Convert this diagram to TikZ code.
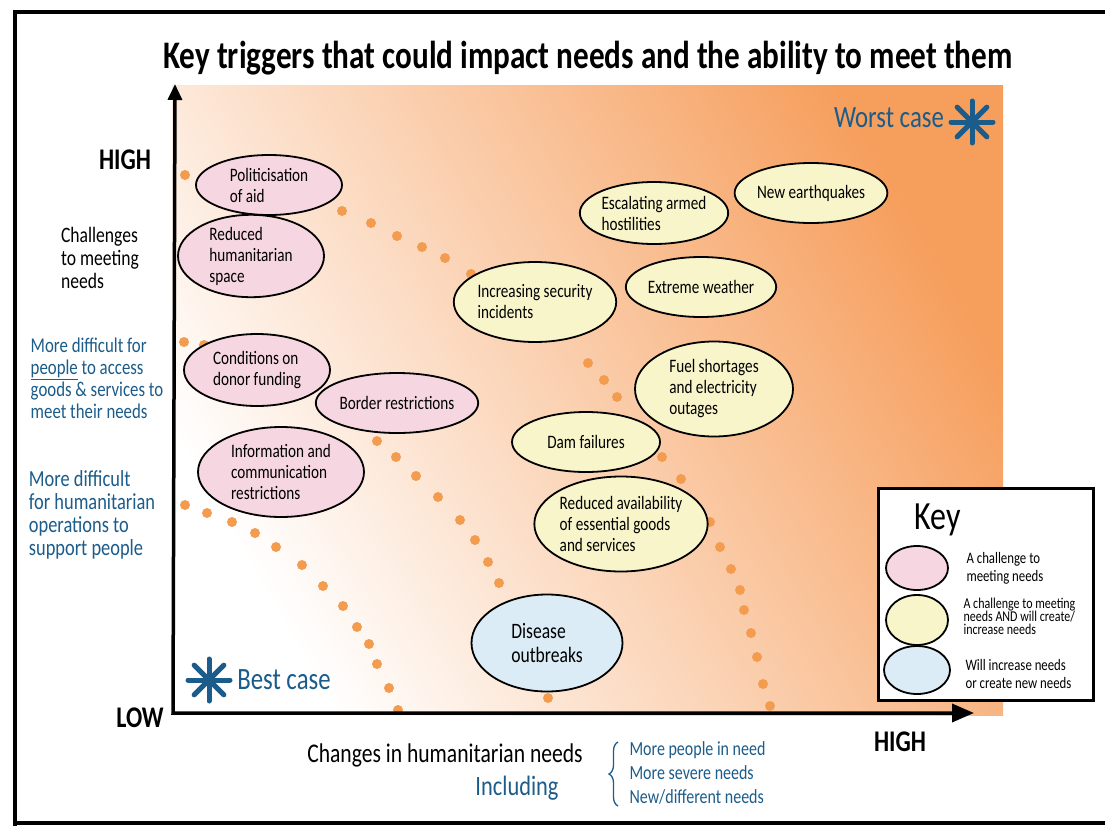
\documentclass[tikz,border=0pt]{standalone}
\usepackage{fontspec}
\setmainfont{Carlito}[FakeStretch=0.8]
\usepackage{xcolor}
\usetikzlibrary{arrows.meta,positioning,shapes.geometric,decorations.pathreplacing}

\definecolor{peach}{RGB}{246,158,92}
\definecolor{dotorange}{RGB}{243,156,80}
\definecolor{inkblue}{RGB}{28,92,138}
\definecolor{pinkfill}{RGB}{246,214,224}
\definecolor{yellowfill}{RGB}{248,245,202}
\definecolor{bluefill}{RGB}{220,236,246}

\tikzset{
  trigger/.style={draw,ellipse,line width=1.8pt,inner sep=0pt,align=left,font=\fontsize{19}{21}\selectfont},
  challenge/.style={trigger,fill=pinkfill},
  both/.style={trigger,fill=yellowfill},
  needs/.style={trigger,fill=bluefill},
  bluenote/.style={text=inkblue,align=left},
  levellabel/.style={font=\fontsize{30}{30}\selectfont\bfseries},
  spoke/.style={inkblue,line width=5pt,line cap=round},
}

\begin{document}
\begin{tikzpicture}[x=1pt,y=-1pt]
\useasboundingbox (0,0) rectangle (1105,827);
% frame
\draw[line width=4pt] (1105,12) -- (15,12) -- (15,826);
\draw[line width=4pt] (15,823) -- (1105,823);
\node (title) at (588,58) {\fontsize{39}{39}\selectfont\bfseries Key triggers that could impact needs and the ability to meet them};

% background field
\shade[left color=white,right color=peach,shading angle=120] (172,85) rectangle (1003,715);

% dotted bands
\foreach \p in {(185,175),(342,211),(371,223),(397,236),(422,247),(445,258),(471,274),
  (588,363),(604,380),(617,397),(662,457),(681,479),(710,522),(720,547),(731,569),
  (740,590),(744,610),(751,633),(757,657),(763,684),(770,706)}
  \fill[dotorange] \p circle (5pt);
\foreach \p in {(184,342),(204,345),(377,441),(396,457),(416,476),(438,497),(460,520),
  (475,540),(488,562),(499,583),(548,698)}
  \fill[dotorange] \p circle (5pt);
\foreach \p in {(185,505),(207,513),(232,522),(255,533),(276,547),(302,565),(323,586),
  (343,606),(357,627),(369,644),(377,664),(389,688),(398,710)}
  \fill[dotorange] \p circle (5pt);

% triggers
\node[challenge,minimum width=146pt,minimum height=60pt] (politic) at (269,185) {Politicisation\\of aid};
\node[challenge,minimum width=146pt,minimum height=78pt] (humspace) at (251,256) {Reduced\\humanitarian\\space};
\node[challenge,minimum width=146pt,minimum height=72pt] (donor) at (257,370) {Conditions on\\donor funding};
\node[challenge,minimum width=148pt,minimum height=60pt] (border) at (397,403) {Border restrictions};
\node[challenge,minimum width=166pt,minimum height=90pt] (infocomm) at (281,472) {Information and\\communication\\restrictions};
\node[both,minimum width=144pt,minimum height=62pt] (armed) at (654,213) {Escalating armed\\hostilities};
\node[both,minimum width=152pt,minimum height=60pt] (quake) at (811,193) {New earthquakes};
\node[both,minimum width=144pt,minimum height=80pt] (security) at (535,302) {Increasing security\\incidents};
\node[both,minimum width=148pt,minimum height=60pt] (weather) at (701,287) {Extreme weather};
\node[both,minimum width=158pt,minimum height=95pt] (fuel) at (714,389) {Fuel shortages\\and electricity\\outages};
\node[both,minimum width=148pt,minimum height=60pt] (dam) at (586,442) {Dam failures};
\node[both,minimum width=167pt,minimum height=95pt] (goods) at (621,524) {Reduced availability\\of essential goods\\and services};
\node[needs,minimum width=151pt,minimum height=97pt,font=\fontsize{22}{24}\selectfont] (disease) at (547,643) {Disease\\outbreaks};

% axes
\coordinate (origin) at (173,713);
\coordinate (ytip) at (175,84);
\coordinate (xtip) at (974,713);
\draw[line width=3.5pt,{Triangle[length=16pt,width=14pt]}-{Triangle[length=22pt,width=18pt]}] (ytip) -- (origin) -- (xtip);

% axis labels
\node[levellabel] (highy) at (125,160) {HIGH};
\node[levellabel] (lowy) at (140,718) {LOW};
\node[levellabel] (highx) at (900,742) {HIGH};
\node[align=left,font=\fontsize{22}{23}\selectfont] (challenges) at (100,258) {Challenges\\to meeting\\needs};
\node[bluenote,font=\fontsize{21}{22}\selectfont] (peopleaccess) at (97,378) {More difficult for\\\underline{people} to access\\goods \& services to\\meet their needs};
\node[bluenote,font=\fontsize{23}{23}\selectfont] (operations) at (92,515) {More difficult\\for humanitarian\\operations to\\support people};

% best / worst case
\coordinate (bestmark) at (209,680);
\foreach \a in {0,45,90,135}
  \draw[spoke,shift={(bestmark)}] (\a:21) -- (\a+180:21);
\node[text=inkblue,font=\fontsize{31}{31}\selectfont] (bestcase) at (284,680) {Best case};
\coordinate (worstmark) at (972,122);
\foreach \a in {0,45,90,135}
  \draw[spoke,shift={(worstmark)}] (\a:21) -- (\a+180:21);
\node[text=inkblue,font=\fontsize{31}{31}\selectfont] (worstcase) at (889,118) {Worst case};

% x axis caption
\node[font=\fontsize{27}{27}\selectfont] (changes) at (445,755) {Changes in humanitarian needs};
\node[text=inkblue,font=\fontsize{28}{28}\selectfont] (including) at (517,788) {Including};
\coordinate (bracelow) at (618,806);
\coordinate (bracehigh) at (618,742);
\draw[inkblue,line width=1.3pt,decorate,decoration={brace,amplitude=9pt}] (bracelow) -- (bracehigh);
\node[bluenote,anchor=west,font=\fontsize{20}{24}\selectfont] (needslist) at (626,773) {More people in need\\More severe needs\\New/different needs};

% key
\node[draw,line width=3pt,fill=white,minimum width=215pt,minimum height=212pt] (keybox) at (985.5,594) {};
\node[font=\fontsize{40}{40}\selectfont] (keytitle) at (938,520) {Key};
\node[challenge,minimum width=62pt,minimum height=44pt] (keypink) at (917,568) {};
\node[both,minimum width=62pt,minimum height=50pt] (keyyellow) at (917,620) {};
\node[needs,minimum width=66pt,minimum height=48pt] (keyblue) at (917,670) {};
\node[anchor=west,align=left,font=\fontsize{16}{18}\selectfont] (keypinktext) at (963,568) {A challenge to\\meeting needs};
\node[anchor=west,align=left,font=\fontsize{15}{13}\selectfont] (keyyellowtext) at (960,616) {A challenge to meeting\\needs AND will create/\\increase needs};
\node[anchor=west,align=left,font=\fontsize{16}{18}\selectfont] (keybluetext) at (962,674) {Will increase needs\\or create new needs};
\end{tikzpicture}
\end{document}
